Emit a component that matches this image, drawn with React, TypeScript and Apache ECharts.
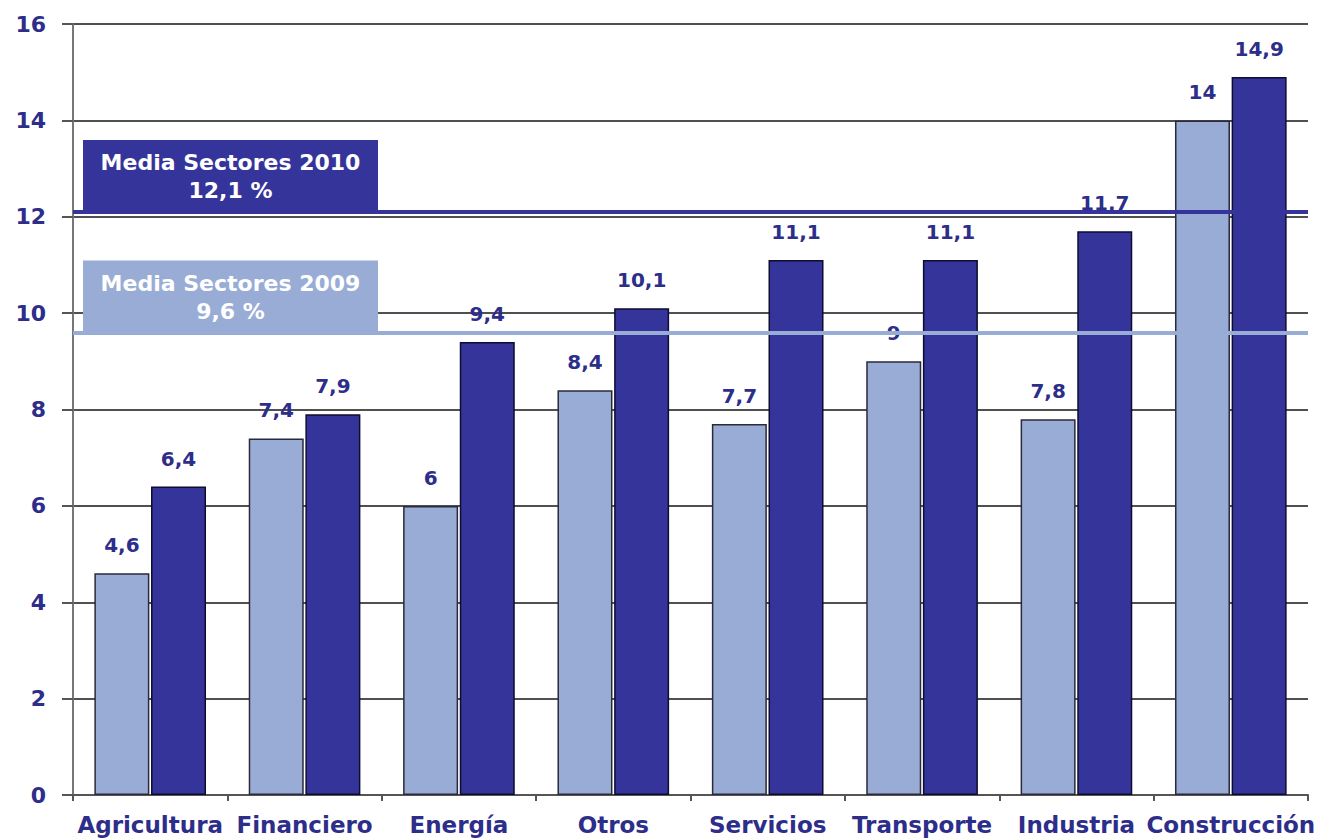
import React, { useEffect, useRef } from "react";
import * as echarts from "echarts";

const categories = ["Agricultura", "Financiero", "Energía", "Otros", "Servicios", "Transporte", "Industria", "Construcción"];
const values2009 = [4.6, 7.4, 6, 8.4, 7.7, 9, 7.8, 14];
const values2010 = [6.4, 7.9, 9.4, 10.1, 11.1, 11.1, 11.7, 14.9];
const mean2009 = 9.6;
const mean2010 = 12.1;
const meanLabel2009 = ["Media Sectores 2009", "9,6 %"];
const meanLabel2010 = ["Media Sectores 2010", "12,1 %"];

const LIGHT = "#98acd6";
const DARK = "#35349a";
const NAVY = "#2d2d8a";
const FONT = "'DejaVu Sans', sans-serif";

const fmt = (v: number) => String(v).replace(".", ",");

export default function App() {
  const ref = useRef<HTMLDivElement>(null);
  useEffect(() => {
    if (!ref.current) return;
    const chart = echarts.init(ref.current, null, { renderer: "svg" });
    const valueLabel = {
      show: true,
      position: "top" as const,
      distance: 18,
      formatter: (p: any) => fmt(p.value),
      color: NAVY,
      fontSize: 20,
      fontWeight: "bold" as const,
      fontFamily: FONT,
    };
    const meanLabel = (lines: string[], bg: string) => ({
      show: true,
      position: "insideStartTop" as const,
      distance: [10, 0],
      formatter: `{a|${lines[0]}}\n{b|${lines[1]}}`,
      backgroundColor: bg,
      color: "#ffffff",
      align: "left" as const,
      width: 273,
      padding: [9, 11, 7, 11],
      rich: {
        a: { color: "#ffffff", fontSize: 22, fontWeight: "bold", fontFamily: FONT, lineHeight: 28, align: "center", width: 273 },
        b: { color: "#ffffff", fontSize: 22, fontWeight: "bold", fontFamily: FONT, lineHeight: 28, align: "center", width: 273 },
      },
    });
    chart.setOption({
      animation: false,
      backgroundColor: "#ffffff",
      grid: { left: 73, right: 29, top: 24, bottom: 45, containLabel: false },
      xAxis: {
        type: "category",
        data: categories,
        axisLine: { lineStyle: { color: "#555555", width: 2 } },
        axisTick: { show: true, length: 6, lineStyle: { color: "#555555", width: 2 } },
        axisLabel: { color: NAVY, fontSize: 23, fontWeight: "bold", fontFamily: FONT, margin: 18, interval: 0 },
      },
      yAxis: {
        type: "value",
        min: 0,
        max: 16,
        interval: 2,
        axisLine: { show: true, lineStyle: { color: "#777777", width: 2 } },
        axisTick: { show: true, length: 11, lineStyle: { color: "#555555", width: 2 } },
        axisLabel: { color: NAVY, fontSize: 22, fontWeight: "bold", fontFamily: FONT, margin: 27 },
        splitLine: { show: true, lineStyle: { color: "#505050", width: 2 } },
      },
      series: [
        {
          type: "bar",
          name: "2009",
          data: values2009,
          barWidth: 55,
          barGap: "3%",
          itemStyle: { color: LIGHT, borderColor: "#2a2a3a", borderWidth: 1.5 },
          label: valueLabel,
          markLine: {
            silent: true,
            symbol: "none",
            lineStyle: { color: LIGHT, width: 4, type: "solid" },
            label: meanLabel(meanLabel2009, LIGHT),
            data: [{ yAxis: mean2009 }],
            z: 10,
          },
        },
        {
          type: "bar",
          name: "2010",
          data: values2010,
          barWidth: 55,
          itemStyle: { color: DARK, borderColor: "#0d0d30", borderWidth: 1.5 },
          label: valueLabel,
          markLine: {
            silent: true,
            symbol: "none",
            lineStyle: { color: DARK, width: 4, type: "solid" },
            label: meanLabel(meanLabel2010, DARK),
            data: [{ yAxis: mean2010 }],
            z: 10,
          },
        },
      ],
    });
    return () => chart.dispose();
  }, []);
  return <div ref={ref} style={{ position: "fixed", left: 0, top: 0, width: 1337, height: 840 }} />;
}
